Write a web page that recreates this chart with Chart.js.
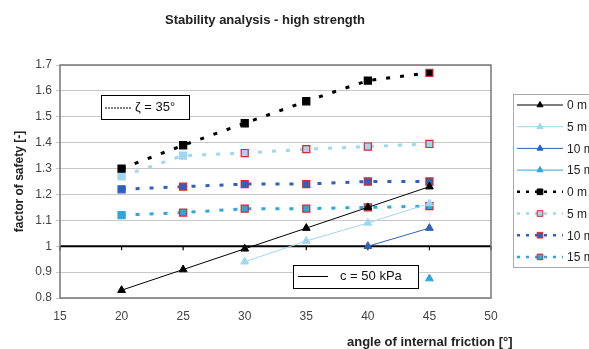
<!DOCTYPE html>
<html>
<head>
<meta charset="utf-8">
<script src="https://cdn.jsdelivr.net/npm/chart.js@4.4.1/dist/chart.umd.min.js"></script>
<style>
  html, body { margin: 0; padding: 0; background: #fff; }
  #wrap { width: 589px; height: 349px; }
</style>
</head>
<body>
<div id="wrap"><canvas id="stabilityChart" width="589" height="349"></canvas></div>
<script>
// angulo de friccion interna (x) y factores de seguridad
var angles = [20, 25, 30, 35, 40, 45];
var c50_0m  = [0.83, 0.91, 0.99, 1.07, 1.15, 1.23];
var c50_5m  = [null, null, 0.94, 1.02, 1.09, 1.165];
var c50_10m = [null, null, null, null, 1.00, 1.07];
var c50_15m = [null, null, null, null, null, 0.875];
var z35_0m  = [1.30, 1.39, 1.475, 1.56, 1.64, 1.67];
var z35_5m  = [1.27, 1.35, 1.36, 1.375, 1.385, 1.395];
var z35_10m = [1.22, 1.23, 1.24, 1.24, 1.25, 1.25];
var z35_15m = [1.12, 1.13, 1.145, 1.145, 1.15, 1.155];
var seriesLabels = ['0 m', '5 m', '10 m', '15 m', '0 m', '5 m', '10 m', '15 m'];
var xTicks = [15, 20, 25, 30, 35, 40, 45, 50];

var FONT = "'Liberation Sans', Arial, sans-serif";

function pts(values) {
    return angles.map(function (a, i) { return { x: a, y: values[i] }; });
}

function solidSet(label, values, color) {
    return {
        label: label, data: pts(values),
        borderColor: color, backgroundColor: color,
        borderWidth: 1, pointStyle: 'triangle', pointRadius: 4.5,
        pointBorderWidth: 1, pointBorderColor: color, pointBackgroundColor: color,
        spanGaps: false
    };
}

function dashSet(label, values, color, redFrom) {
    return {
        label: label, data: pts(values),
        borderColor: color, backgroundColor: color,
        borderWidth: 3, borderDash: [4, 10],
        pointStyle: 'rect', pointRadius: 5,
        pointBorderWidth: 1.2,
        pointBackgroundColor: color,
        pointBorderColor: function (ctx) { return ctx.dataIndex >= redFrom ? '#e0262b' : color; },
        redFrom: redFrom
    };
}

// Textos, cajas y leyenda dibujados a mano
var extrasPlugin = {
    id: 'extras',
    beforeDatasetsDraw: function (chart) {
        var ctx = chart.ctx, area = chart.chartArea;
        var xs = chart.scales.x, ys = chart.scales.y;
        var y1 = ys.getPixelForValue(1);
        ctx.save();
        ctx.strokeStyle = '#000';
        ctx.lineWidth = 2;
        ctx.beginPath();
        ctx.moveTo(area.left, y1);
        ctx.lineTo(area.right, y1);
        ctx.stroke();
        ctx.lineWidth = 1.2;
        xTicks.forEach(function (t) {
            var px = xs.getPixelForValue(t);
            ctx.beginPath();
            ctx.moveTo(px, y1);
            ctx.lineTo(px, y1 + 4);
            ctx.stroke();
        });
        ctx.restore();
    },
    afterDraw: function (chart) {
        var ctx = chart.ctx, area = chart.chartArea;
        ctx.save();
        // marco del area de trazado
        ctx.strokeStyle = '#777';
        ctx.lineWidth = 1.5;
        ctx.strokeRect(area.left, area.top, area.right - area.left, area.bottom - area.top);

        // titulo
        ctx.fillStyle = '#222';
        ctx.font = 'bold 13px ' + FONT;
        ctx.textAlign = 'center';
        ctx.textBaseline = 'middle';
        ctx.fillText('Stability analysis - high strength', 265, 20);

        // titulo eje x
        ctx.font = 'bold 13px ' + FONT;
        ctx.textAlign = 'left';
        ctx.fillText('angle of internal friction [°]', 347, 342);

        // caja zeta
        ctx.fillStyle = '#fff';
        ctx.fillRect(101, 95, 88, 24);
        ctx.strokeStyle = '#000';
        ctx.lineWidth = 1;
        ctx.strokeRect(101.5, 95.5, 88, 24);
        ctx.setLineDash([2, 1]);
        ctx.beginPath();
        ctx.moveTo(105, 108);
        ctx.lineTo(131, 108);
        ctx.stroke();
        ctx.setLineDash([]);
        ctx.fillStyle = '#111';
        ctx.font = '13px ' + FONT;
        ctx.textBaseline = 'middle';
        ctx.fillText('ζ = 35°', 135, 107);

        // caja cohesion
        ctx.fillStyle = '#fff';
        ctx.fillRect(293, 265, 125, 23);
        ctx.strokeRect(293.5, 265.5, 125, 23);
        ctx.beginPath();
        ctx.moveTo(298, 276.5);
        ctx.lineTo(328, 276.5);
        ctx.stroke();
        ctx.fillStyle = '#111';
        ctx.fillText('c = 50 kPa', 340, 276);

        // leyenda
        ctx.fillStyle = '#fff';
        ctx.fillRect(513, 94, 80, 173);
        ctx.strokeStyle = '#aaa';
        ctx.strokeRect(513.5, 94.5, 80, 173);
        ctx.font = '12px ' + FONT;
        chart.data.datasets.forEach(function (ds, i) {
            var y = 105 + i * 21.7;
            ctx.strokeStyle = ds.borderColor;
            ctx.lineWidth = ds.borderDash ? 2.5 : 1;
            ctx.setLineDash(ds.borderDash ? [3, 6] : []);
            ctx.beginPath();
            ctx.moveTo(517, y);
            ctx.lineTo(563, y);
            ctx.stroke();
            ctx.setLineDash([]);
            var border = ds.redFrom !== undefined && ds.redFrom < 5 ? '#e0262b' : ds.pointBackgroundColor;
            ctx.fillStyle = ds.pointBackgroundColor;
            ctx.strokeStyle = border;
            ctx.lineWidth = 1;
            Chart.helpers.drawPoint(ctx, {
                pointStyle: ds.pointStyle, radius: ds.pointStyle === 'rect' ? 4 : 3.5,
                rotation: 0, borderWidth: 1
            }, 540, y);
            ctx.fillStyle = '#222';
            ctx.textAlign = 'left';
            ctx.textBaseline = 'middle';
            ctx.fillText(ds.label, 567, y + 1);
        });
        ctx.restore();
    }
};

var ctxStab = document.getElementById('stabilityChart').getContext('2d');
var stabilityChart = new Chart(ctxStab, {
    type: 'line',
    data: {
        datasets: [
            solidSet(seriesLabels[0], c50_0m, '#000000'),
            solidSet(seriesLabels[1], c50_5m, '#9fd6f0'),
            solidSet(seriesLabels[2], c50_10m, '#2f62b8'),
            solidSet(seriesLabels[3], c50_15m, '#2fa6de'),
            dashSet(seriesLabels[4], z35_0m, '#000000', 5),
            dashSet(seriesLabels[5], z35_5m, '#9fd6f0', 2),
            dashSet(seriesLabels[6], z35_10m, '#2f5fc0', 1),
            dashSet(seriesLabels[7], z35_15m, '#2fa6de', 1)
        ]
    },
    options: {
        responsive: false,
        animation: false,
        layout: { padding: { top: 65, right: 98, bottom: 0, left: 0 } },
        plugins: {
            legend: { display: false },
            title: { display: false },
            tooltip: { enabled: false }
        },
        scales: {
            x: {
                type: 'linear', min: 15, max: 50,
                afterBuildTicks: function (axis) {
                    axis.ticks = xTicks.map(function (v) { return { value: v }; });
                },
                afterFit: function (axis) { axis.height = 51; },
                grid: { display: false, drawTicks: false },
                border: { display: false },
                ticks: { padding: 11, color: '#444', font: { family: FONT, size: 12 } }
            },
            y: {
                min: 0.8, max: 1.7,
                ticks: {
                    stepSize: 0.1, padding: 4, color: '#444',
                    font: { family: FONT, size: 12 },
                    callback: function (v) { return Math.round(v * 10) / 10; }
                },
                afterFit: function (axis) { axis.width = 60; },
                grid: { color: '#c8c8c8', lineWidth: 1, tickLength: 4 },
                border: { display: false },
                title: {
                    display: true, text: 'factor of safety [-]', color: '#222',
                    font: { family: FONT, size: 12, weight: 'bold' },
                    padding: { top: 12, bottom: 0 }
                }
            }
        }
    },
    plugins: [extrasPlugin]
});
</script>
</body>
</html>
